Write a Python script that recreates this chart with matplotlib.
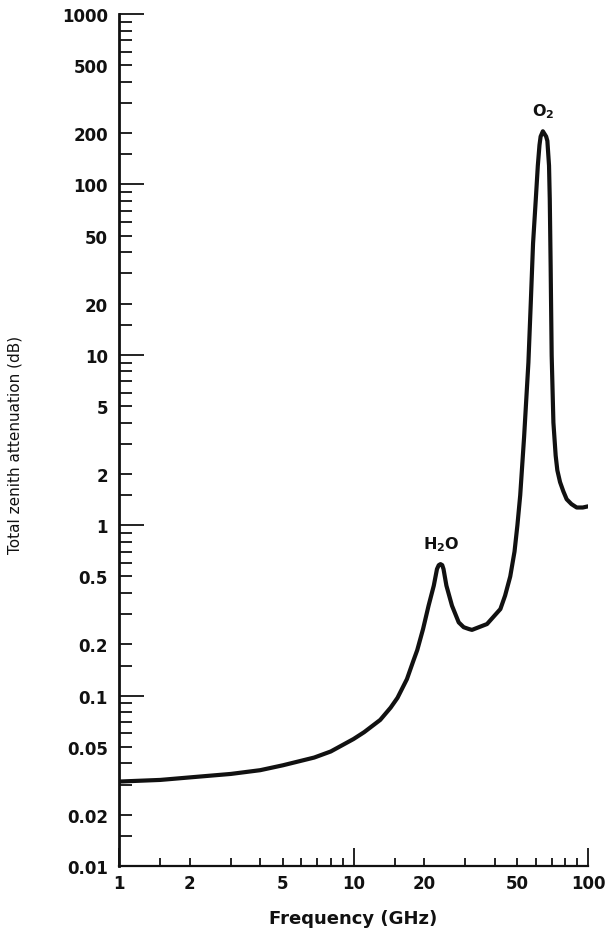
import matplotlib
matplotlib.use("Agg")
import matplotlib.pyplot as plt

# Total zenith attenuation vs frequency
freq_ghz = [1.0, 1.5, 2.0, 3.0, 4.0, 5.0, 6.8, 8.0, 10.0, 11.1, 13.0, 14.4,
            15.4, 16.9, 18.0, 18.7, 19.8, 20.9, 22.0, 22.7, 23.1, 23.5, 23.9,
            24.2, 24.9, 26.3, 28.1, 29.5, 31.0, 32.0, 37.1, 42.3, 44.3, 46.6,
            48.6, 50.0, 51.4, 53.4, 55.7, 57.0, 58.3, 59.9, 61.1, 62.1, 62.8,
            64.2, 66.3, 67.1, 68.2, 68.7, 69.0, 69.3, 69.5, 70.0, 71.2, 72.8,
            74.0, 76.0, 78.5, 81.1, 85.0, 89.5, 95.0, 100.0]
atten_db = [0.0313, 0.032, 0.0331, 0.0347, 0.0365, 0.039, 0.0433, 0.047,
            0.0556, 0.061, 0.072, 0.085, 0.097, 0.125, 0.16, 0.185, 0.246,
            0.337, 0.442, 0.553, 0.583, 0.591, 0.583, 0.553, 0.442, 0.337,
            0.269, 0.252, 0.246, 0.243, 0.263, 0.322, 0.386, 0.50, 0.70, 1.0,
            1.5, 3.3, 9.0, 20.0, 45.0, 82.0, 129.0, 170.0, 191.0, 205.0,
            191.0, 180.0, 129.0, 82.0, 52.0, 33.0, 23.0, 9.9, 4.0, 2.56, 2.1,
            1.79, 1.58, 1.42, 1.33, 1.27, 1.27, 1.29]

# Peak annotations
peak_labels = [r"$\mathbf{H_2O}$", r"$\mathbf{O_2}$"]
peak_x = [23.7, 64.4]
peak_y = [0.776, 270.0]

# Ticks
x_major = [1, 10, 100]
x_major_labels = ["1", "10", "100"]
y_major = [0.01, 0.1, 1, 10, 100, 1000]
y_major_labels = ["0.01", "0.1", "1", "10", "100", "1000"]
subs = [1.5, 2, 3, 4, 5, 6, 7, 8, 9]
labelled_minor = {0.02: "0.02", 0.05: "0.05", 0.2: "0.2", 0.5: "0.5",
                  2: "2", 5: "5", 20: "20", 50: "50", 200: "200", 500: "500"}

plt.rcParams["mathtext.fontset"] = "dejavusans"
ink = "#111111"

fig = plt.figure(figsize=(6.08, 9.29), dpi=100)
ax = fig.add_axes([119 / 608, 62 / 929, 469 / 608, 852 / 929])

ax.plot(freq_ghz, atten_db, color=ink, linewidth=3.0,
        solid_capstyle="round", solid_joinstyle="round", zorder=3)

ax.set_xscale("log")
ax.set_yscale("log")
ax.set_xlim(1, 100)
ax.set_ylim(0.01, 1000)

for s in ["top", "right"]:
    ax.spines[s].set_visible(False)
ax.spines["left"].set_linewidth(2.0)
ax.spines["bottom"].set_linewidth(1.6)
ax.spines["left"].set_color(ink)
ax.spines["bottom"].set_color(ink)

tick_font = dict(fontsize=12, fontweight="bold", color=ink)

x_minor = [s * d for d in [1, 10] for s in subs]
y_minor = [round(s * d, 4) for d in [0.01, 0.1, 1, 10, 100] for s in subs]

ax.set_xticks(x_major, x_major_labels, **tick_font)
ax.set_xticks(x_minor, [labelled_minor.get(round(v, 4), "") for v in x_minor],
              minor=True, **tick_font)
ax.set_yticks(y_major, y_major_labels, **tick_font)
ax.set_yticks(y_minor, [labelled_minor.get(v, "") for v in y_minor],
              minor=True, **tick_font)

ax.tick_params(axis="both", which="both", direction="in", color=ink, width=1.3)
ax.tick_params(axis="y", which="major", length=18, pad=8)
ax.tick_params(axis="y", which="minor", length=9.5, pad=8)
ax.tick_params(axis="x", which="major", length=13, pad=6)
ax.tick_params(axis="x", which="minor", length=6, pad=6)

ax.set_xlabel("Frequency (GHz)", fontsize=13, fontweight="bold", color=ink)
ax.xaxis.set_label_coords(0.5, -0.050)
ax.set_ylabel("Total zenith attenuation (dB)", fontsize=11, color=ink)
ax.yaxis.set_label_coords(-0.205, 0.495)

for lab, x, y in zip(peak_labels, peak_x, peak_y):
    ax.text(x, y, lab, ha="center", va="center", fontsize=11.5, color=ink)

fig.savefig("out.png", dpi=100)
